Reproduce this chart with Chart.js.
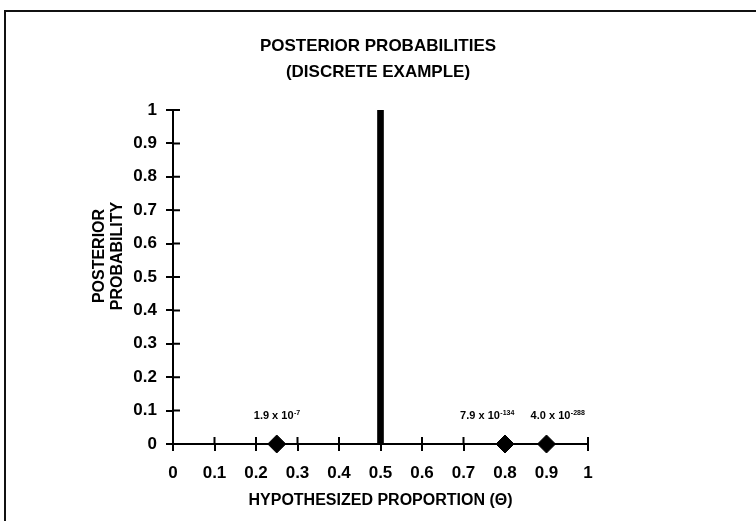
<!DOCTYPE html>
<html>
<head>
<meta charset="utf-8">
<script src="https://cdn.jsdelivr.net/npm/chart.js@4"></script>
<style>
  html, body { margin: 0; padding: 0; background: #fff; }
  #wrap { position: relative; width: 756px; height: 521px; }
  #frame { position: absolute; left: 4px; top: 10px; right: 0; bottom: 0;
           border-top: 2px solid #111; border-left: 2px solid #111; pointer-events: none; }
</style>
</head>
<body>
<div id="wrap">
  <canvas id="postChart" width="756" height="521"></canvas>
  <div id="frame"></div>
</div>
<script>
// hypothesized proportions and their posterior probabilities
const thetas = [0.25, 0.5, 0.8, 0.9];
const posterior = [1.9e-7, 1, 7.9e-134, 4.0e-288];
// annotation text: mantissa part and exponent
const noteBase = ['1.9 x 10', null, '7.9 x 10', '4.0 x 10'];
const noteExp = ['-7', null, '-134', '-288'];
const xTicks = [0, 0.1, 0.2, 0.3, 0.4, 0.5, 0.6, 0.7, 0.8, 0.9, 1];
const yTicks = [0, 0.1, 0.2, 0.3, 0.4, 0.5, 0.6, 0.7, 0.8, 0.9, 1];

const FONT = '"Liberation Sans", Arial, sans-serif';
const noteShift = [0, 0, -18, 11]; // horizontal nudge so labels don't collide

const spike = thetas.map((t, i) => ({ x: t, y: posterior[i] })).filter(p => p.y >= 0.5);
const small = thetas.map((t, i) => ({ x: t, y: posterior[i], i })).filter(p => p.y < 0.5);

const decor = {
  id: 'decor',
  afterDatasetsDraw(chart) {
    const { ctx, chartArea, scales: { x, y } } = chart;
    ctx.save();
    // inner half of tick marks (crossing the axes)
    ctx.strokeStyle = '#000';
    ctx.lineWidth = 2;
    ctx.beginPath();
    xTicks.forEach(v => {
      if (v === 0) return;
      const px = x.getPixelForValue(v);
      ctx.moveTo(px, chartArea.bottom);
      ctx.lineTo(px, chartArea.bottom - 7);
    });
    yTicks.forEach(v => {
      if (v === 0) return;
      const py = y.getPixelForValue(v);
      ctx.moveTo(chartArea.left, py);
      ctx.lineTo(chartArea.left + 7, py);
    });
    ctx.stroke();

    // annotations over the near-zero points
    ctx.fillStyle = '#000';
    ctx.textBaseline = 'alphabetic';
    small.forEach(p => {
      const base = noteBase[p.i], ex = noteExp[p.i];
      if (!base) return;
      ctx.font = 'bold 11px ' + FONT;
      const wb = ctx.measureText(base).width;
      ctx.font = 'bold 7px ' + FONT;
      const we = ctx.measureText(ex).width;
      const cx = x.getPixelForValue(p.x) + noteShift[p.i];
      const by = y.getPixelForValue(p.y) - 25;
      const left = cx - (wb + we) / 2;
      ctx.font = 'bold 11px ' + FONT;
      ctx.textAlign = 'left';
      ctx.fillText(base, left, by);
      ctx.font = 'bold 7px ' + FONT;
      ctx.fillText(ex, left + wb + 0.5, by - 4);
    });

    // titles
    ctx.textAlign = 'center';
    ctx.textBaseline = 'middle';
    ctx.font = 'bold 17px ' + FONT;
    ctx.fillText('POSTERIOR PROBABILITIES', 378, 46);
    ctx.fillText('(DISCRETE EXAMPLE)', 378, 72);

    ctx.font = 'bold 16px ' + FONT;
    ctx.fillText('HYPOTHESIZED PROPORTION (\u0398)', (chartArea.left + chartArea.right) / 2, 501);

    ctx.translate(109, 256);
    ctx.rotate(-Math.PI / 2);
    ctx.fillText('POSTERIOR', 0, -9);
    ctx.fillText('PROBABILITY', 0, 9);
    ctx.restore();
  }
};

const fmt = v => String(Math.round(v * 10) / 10);

new Chart(document.getElementById('postChart').getContext('2d'), {
  data: {
    datasets: [
      {
        type: 'bar',
        data: spike,
        backgroundColor: '#000',
        barThickness: 6,
        borderWidth: 0
      },
      {
        type: 'scatter',
        data: small,
        pointStyle: 'rectRot',
        pointRadius: 9,
        pointHoverRadius: 9,
        backgroundColor: '#000',
        borderColor: '#000',
        clip: false
      }
    ]
  },
  options: {
    responsive: false,
    animation: false,
    layout: { padding: { left: 10, right: 168, top: 110, bottom: 17 } },
    plugins: { legend: { display: false }, tooltip: { enabled: false } },
    scales: {
      x: {
        type: 'linear',
        offset: false,
        min: 0, max: 1,
        afterBuildTicks: s => { s.ticks = xTicks.map(v => ({ value: v })); },
        afterFit: s => { s.height = 60; },
        grid: { offset: false, drawOnChartArea: false, drawTicks: true, tickLength: 7, color: '#000', lineWidth: 2 },
        border: { color: '#000', width: 2 },
        ticks: { color: '#000', padding: 12, maxRotation: 0, autoSkip: false, callback: fmt,
                 font: { family: FONT, size: 17, weight: 'bold' } }
      },
      y: {
        type: 'linear',
        min: 0, max: 1,
        afterBuildTicks: s => { s.ticks = yTicks.map(v => ({ value: v })); },
        afterFit: s => { s.width = 163; },
        grid: { drawOnChartArea: false, drawTicks: true, tickLength: 7, color: '#000', lineWidth: 2 },
        border: { color: '#000', width: 2 },
        ticks: { color: '#000', padding: 9, autoSkip: false, callback: fmt,
                 font: { family: FONT, size: 17, weight: 'bold' } }
      }
    }
  },
  plugins: [decor]
});
</script>
</body>
</html>
